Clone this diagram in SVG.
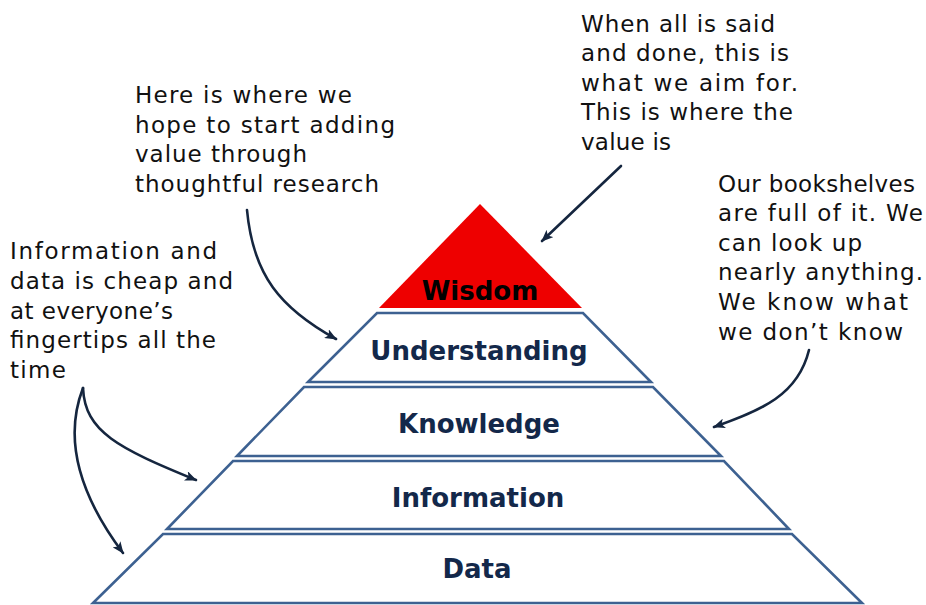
<svg xmlns="http://www.w3.org/2000/svg" width="926" height="605" viewBox="0 0 926 605">
  <style>
    .band { fill: #ffffff; stroke: #3d6191; stroke-width: 2.6; stroke-linejoin: miter; }
    .peak { fill: #ee0000; stroke: none; }
    .label { font-family: "DejaVu Sans", Verdana, sans-serif; font-weight: bold; font-size: 26px; fill: #13284a; text-anchor: middle; }
    .note { font-family: "DejaVu Sans", "Noto Sans", sans-serif; font-size: 23px; fill: #111111; }
    .conn { fill: none; stroke: #15263f; stroke-width: 2.6; stroke-linecap: round; }
  </style>
  <defs>
    <marker id="head" viewBox="0 0 12 10" refX="11" refY="5" markerWidth="12" markerHeight="10" markerUnits="userSpaceOnUse" orient="auto">
      <path d="M0,0 L12,5 L0,10 L3,5 Z" fill="#15263f"/>
    </marker>
  </defs>

  <rect width="926" height="605" fill="#ffffff"/>

  <!-- pyramid levels, bottom to top -->
  <g id="data">
    <polygon class="band" points="163,534 792,534 862,603 93,603"/>
    <text class="label" x="477" y="578">Data</text>
  </g>
  <g id="information">
    <polygon class="band" points="233,461 724,461 789,529 167,529"/>
    <text class="label" x="478" y="507">Information</text>
  </g>
  <g id="knowledge">
    <polygon class="band" points="304,387 653,387 721,456 237,456"/>
    <text class="label" x="479" y="433">Knowledge</text>
  </g>
  <g id="understanding">
    <polygon class="band" points="377,313 583,313 651,382 308,382"/>
    <text class="label" x="479" y="360">Understanding</text>
  </g>
  <g id="wisdom">
    <polygon class="peak" points="480,204 582,308 379,308"/>
    <text class="label" x="480" y="300" style="fill:#000000">Wisdom</text>
  </g>

  <!-- annotations -->
  <g id="note-research">
    <text class="note" x="135" y="103" textLength="217" lengthAdjust="spacing">Here is where we</text>
    <text class="note" x="135" y="133" textLength="260" lengthAdjust="spacing">hope to start adding</text>
    <text class="note" x="135" y="162" textLength="172" lengthAdjust="spacing">value through</text>
    <text class="note" x="135" y="192" textLength="244" lengthAdjust="spacing">thoughtful research</text>
  </g>
  <g id="note-cheap">
    <text class="note" x="10" y="259" textLength="207" lengthAdjust="spacing">Information and</text>
    <text class="note" x="10" y="289" textLength="223" lengthAdjust="spacing">data is cheap and</text>
    <text class="note" x="10" y="319" textLength="163" lengthAdjust="spacing">at everyone’s</text>
    <text class="note" x="10" y="348" textLength="206" lengthAdjust="spacing">fingertips all the</text>
    <text class="note" x="10" y="378" textLength="56" lengthAdjust="spacing">time</text>
  </g>
  <g id="note-value">
    <text class="note" x="581" y="32" textLength="194" lengthAdjust="spacing">When all is said</text>
    <text class="note" x="581" y="61" textLength="208" lengthAdjust="spacing">and done, this is</text>
    <text class="note" x="581" y="91" textLength="217" lengthAdjust="spacing">what we aim for.</text>
    <text class="note" x="581" y="120" textLength="212" lengthAdjust="spacing">This is where the</text>
    <text class="note" x="581" y="150" textLength="90" lengthAdjust="spacing">value is</text>
  </g>
  <g id="note-bookshelves">
    <text class="note" x="718" y="192" textLength="197" lengthAdjust="spacing">Our bookshelves</text>
    <text class="note" x="718" y="221" textLength="205" lengthAdjust="spacing">are full of it. We</text>
    <text class="note" x="718" y="251" textLength="144" lengthAdjust="spacing">can look up</text>
    <text class="note" x="718" y="280" textLength="205" lengthAdjust="spacing">nearly anything.</text>
    <text class="note" x="718" y="310" textLength="190" lengthAdjust="spacing">We know what</text>
    <text class="note" x="718" y="340" textLength="185" lengthAdjust="spacing">we don’t know</text>
  </g>

  <!-- connectors -->
  <g id="connectors">
    <path class="conn" d="M621,166 L542,241" marker-end="url(#head)"/>
    <path class="conn" d="M247,210 C253,275 280,308 336,339" marker-end="url(#head)"/>
    <path class="conn" d="M83,388 C85,432 118,448 196,480" marker-end="url(#head)"/>
    <path class="conn" d="M83,388 C66,432 72,485 123,553" marker-end="url(#head)"/>
    <path class="conn" d="M809,350 C798,395 762,410 714,427" marker-end="url(#head)"/>
  </g>
</svg>
